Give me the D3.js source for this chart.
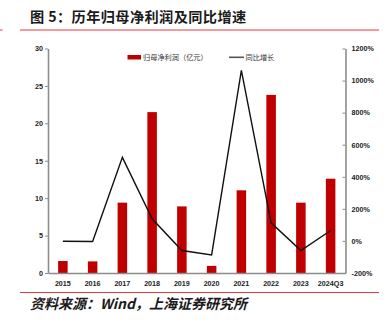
<!DOCTYPE html>
<html>
<head>
<meta charset="utf-8">
<script src="https://cdn.jsdelivr.net/npm/d3@7/dist/d3.min.js"></script>
<style>
  html, body { margin: 0; padding: 0; background: #fff; }
  svg { display: block; }
</style>
</head>
<body>
<script>
// Net profit attributable to parent (100m CNY) and YoY growth (%)
const categories = ["2015", "2016", "2017", "2018", "2019", "2020", "2021", "2022", "2023", "2024Q3"];
const profit = [1.6, 1.55, 9.4, 21.5, 8.9, 0.95, 11.05, 23.8, 9.4, 12.6];
const growth = [-2, -4, 521, 138, -60, -87, 1064, 113, -60, 65];
const leftTicks = [0, 5, 10, 15, 20, 25, 30];
const rightTicks = [-200, 0, 200, 400, 600, 800, 1000, 1200];

const W = 387, H = 326;
const plot = { left: 48, right: 345.5, top: 48.5, bottom: 273 };
const barColor = "#c00000";
const axisColor = "#8c8c8c";
const tickFont = "'Liberation Sans', Arial, sans-serif";
const cjkFont = "'Noto Sans CJK SC', sans-serif";

const svg = d3.select("body").append("svg").attr("width", W).attr("height", H);

// Title and rules
svg.append("text")
  .attr("x", 30).attr("y", 21.5)
  .attr("font-family", cjkFont).attr("font-size", 14.2).attr("font-weight", 700)
  .attr("fill", "#1a1a1a").attr("letter-spacing", 0.4)
  .text("图 5：历年归母净利润及同比增速");
svg.append("line").attr("x1", 20).attr("x2", 379).attr("y1", 30).attr("y2", 30)
  .attr("stroke", "#e8363a").attr("stroke-width", 1);
svg.append("line").attr("x1", 0).attr("x2", 2.5).attr("y1", 30).attr("y2", 30)
  .attr("stroke", "#e8363a").attr("stroke-width", 1);
svg.append("line").attr("x1", 20).attr("x2", 379).attr("y1", 292.5).attr("y2", 292.5)
  .attr("stroke", "#e8363a").attr("stroke-width", 1);
svg.append("text")
  .attr("x", 30).attr("y", 308.5)
  .attr("font-family", cjkFont).attr("font-size", 14).attr("font-weight", 700)
  .attr("font-style", "italic").attr("fill", "#1a1a1a")
  .text("资料来源：Wind，上海证券研究所");

// Scales
const x = d3.scaleBand().domain(categories)
  .range([plot.left, plot.right]).paddingInner(0.68).paddingOuter(0.34);
const yL = d3.scaleLinear().domain([0, 30]).range([plot.bottom, plot.top]);
const yR = d3.scaleLinear().domain([-200, 1200]).range([plot.bottom, plot.top]);

// Bars
svg.append("g").selectAll("rect").data(profit).join("rect")
  .attr("x", (d, i) => x(categories[i]))
  .attr("width", x.bandwidth())
  .attr("y", d => yL(d))
  .attr("height", d => yL(0) - yL(d))
  .attr("fill", barColor);

// Growth line
const line = d3.line()
  .x((d, i) => x(categories[i]) + x.bandwidth() / 2)
  .y(d => yR(d));
svg.append("path").datum(growth)
  .attr("d", line)
  .attr("fill", "none").attr("stroke", "#111").attr("stroke-width", 1.4)
  .attr("stroke-linejoin", "miter");

function styleAxis(g) {
  g.select(".domain").attr("stroke", axisColor).attr("stroke-width", 1.6);
  g.selectAll(".tick line").attr("stroke", axisColor).attr("stroke-width", 1);
  g.selectAll("text").attr("font-family", tickFont).attr("font-size", 7.2)
    .attr("font-weight", 700).attr("fill", "#222");
}

// Left axis
svg.append("g").attr("transform", `translate(${plot.left},0)`)
  .call(d3.axisLeft(yL).tickValues(leftTicks).tickSizeInner(3).tickSizeOuter(0).tickPadding(2))
  .call(styleAxis);

// Right axis (ticks point inward)
svg.append("g").attr("transform", `translate(${plot.right},0)`)
  .call(d3.axisRight(yR).tickValues(rightTicks).tickSizeInner(-3).tickSizeOuter(0).tickPadding(6)
    .tickFormat(d => d + "%"))
  .call(styleAxis);

// Bottom axis
svg.append("g").attr("transform", `translate(0,${plot.bottom})`)
  .call(d3.axisBottom(x).tickSize(0).tickPadding(8))
  .call(styleAxis);

// Legend
const lg = svg.append("g");
lg.append("rect").attr("x", 127.5).attr("y", 55).attr("width", 13.5).attr("height", 4.5).attr("fill", barColor);
lg.append("text").attr("x", 143).attr("y", 60)
  .attr("font-family", cjkFont).attr("font-size", 7.2).attr("fill", "#333")
  .text("归母净利润（亿元）");
lg.append("line").attr("x1", 229).attr("x2", 244).attr("y1", 57.3).attr("y2", 57.3)
  .attr("stroke", "#555").attr("stroke-width", 1.6);
lg.append("text").attr("x", 245.5).attr("y", 60)
  .attr("font-family", cjkFont).attr("font-size", 7.2).attr("fill", "#333")
  .text("同比增长");
</script>
</body>
</html>
